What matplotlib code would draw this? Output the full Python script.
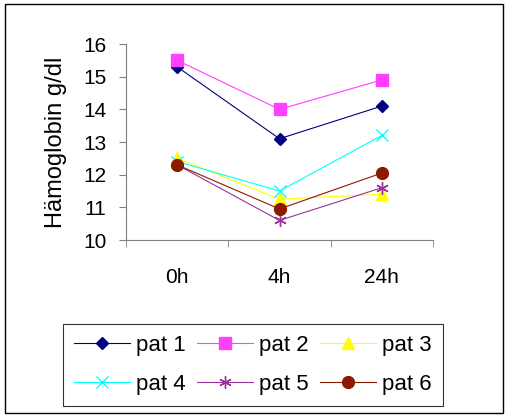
import matplotlib
matplotlib.use("Agg")
import matplotlib.pyplot as plt
from matplotlib.patches import Rectangle

plt.rcParams['font.family'] = ['Liberation Sans', 'DejaVu Sans']

# data
times = ['0h', '4h', '24h']
pat1 = [15.3, 13.1, 14.1]
pat2 = [15.5, 14.0, 14.9]
pat3 = [12.5, 11.25, 11.4]
pat4 = [12.4, 11.5, 13.2]
pat5 = [12.3, 10.6, 11.6]
pat6 = [12.3, 10.95, 12.05]

labels = ['pat 1', 'pat 2', 'pat 3', 'pat 4', 'pat 5', 'pat 6']
series = [pat1, pat2, pat3, pat4, pat5, pat6]
colors = ['#000080', '#FF40FF', '#FFFF00', '#00FFFF', '#993399', '#8B1A00']
markers = ['D', 's', '^', 'x', (6, 2, 0), 'o']
msizes = [6.5, 8.5, 8.5, 8.5, 9, 8.5]

fig = plt.figure(figsize=(5.06, 4.18), dpi=100)
ax = fig.add_axes([126/506, 1 - 240/418, (433-126)/506, (240-44)/418])

x = list(range(len(times)))
handles = []
for vals, lab, c, m, s in zip(series, labels, colors, markers, msizes):
    h, = ax.plot(x, vals, color=c, lw=0.8, marker=m, ms=s, mfc=c, mec=c,
                 mew=1.0, label=lab)
    handles.append(h)

ax.set_xlim(-0.5, 2.5)
ax.set_ylim(10, 16)
ax.set_yticks(range(10, 17))
ax.set_xticks(x)
ax.set_xticklabels(times, fontsize=15)
ax.set_xticks([-0.5, 0.5, 1.5, 2.5], minor=True)
ax.tick_params(axis='x', which='major', length=0, pad=20)
ax.tick_params(axis='x', which='minor', length=5, direction='out', color='#808080')
ax.tick_params(axis='y', length=5, direction='out', labelsize=15, pad=9, color='#808080')
ax.spines['top'].set_visible(False)
ax.spines['right'].set_visible(False)
ax.spines['left'].set_color('#808080')
ax.spines['bottom'].set_color('#808080')
ax.set_ylabel('Hämoglobin g/dl', fontsize=17, labelpad=12)

# row-major order in the legend
order = [0, 3, 1, 4, 2, 5]
leg = fig.legend([handles[i] for i in order], [labels[i] for i in order],
                 loc='lower left', bbox_to_anchor=(63/506, 1 - 406/418, (443-63)/506, (406-322)/418),
                 mode='expand', ncol=3, fontsize=16, frameon=True, fancybox=False,
                 edgecolor='black', handlelength=2.5, handletextpad=0.3,
                 columnspacing=0.6, labelspacing=0.8, borderpad=0.5, borderaxespad=0)
leg.get_frame().set_linewidth(0.8)

fig.patches.append(Rectangle((5/506, 1 - 413/418), 498/506, 409/418, transform=fig.transFigure,
                             fill=False, edgecolor='black', lw=1))

fig.savefig('out.png', dpi=100)
